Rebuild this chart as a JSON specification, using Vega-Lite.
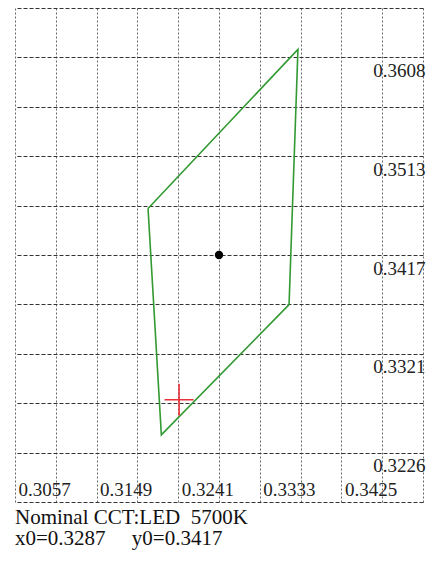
{
  "$schema": "https://vega.github.io/schema/vega-lite/v6.json",
  "width": 408,
  "height": 494,
  "autosize": {"type": "none"},
  "padding": {"left": 15, "top": 8, "right": 7, "bottom": 59},
  "background": "white",
  "config": {"view": {"stroke": null}},
  "title": {
    "text": ["Nominal CCT:LED\u00a0\u00a05700K", "x0=0.3287\u00a0\u00a0\u00a0\u00a0\u00a0y0=0.3417"],
    "orient": "bottom",
    "anchor": "start",
    "font": "Liberation Serif",
    "fontSize": 21,
    "fontWeight": "normal",
    "color": "#111111",
    "lineHeight": 21,
    "offset": -18
  },
  "datasets": {
    "quad": [
      {"i": 0, "x": 0.3207, "y": 0.3462},
      {"i": 1, "x": 0.3376, "y": 0.3616},
      {"i": 2, "x": 0.3366, "y": 0.3369},
      {"i": 3, "x": 0.3222, "y": 0.3243},
      {"i": 4, "x": 0.3207, "y": 0.3462}
    ],
    "center": [{"x": 0.3287, "y": 0.3417}],
    "measured": [{"x": 0.3242, "y": 0.3277}]
  },
  "encoding": {
    "x": {
      "field": "x",
      "type": "quantitative",
      "scale": {"domain": [0.3057, 0.3517], "nice": false, "zero": false},
      "axis": {
        "title": null,
        "orient": "bottom",
        "values": [0.3057, 0.3103, 0.3149, 0.3195, 0.3241, 0.3287, 0.3333, 0.3379, 0.3425, 0.3471, 0.3517],
        "labelExpr": "(abs(round((datum.value-0.3057)/0.0046)) % 2 == 0 && datum.value < 0.35) ? format(datum.value, '.4f') : ''",
        "domain": false,
        "ticks": false,
        "tickSize": 0,
        "grid": true,
        "gridColor": "#666666",
        "gridDash": [2, 2],
        "gridWidth": 1,
        "gridOpacity": 1,
        "labelFont": "Liberation Serif",
        "labelFontSize": 19,
        "labelColor": "#222222",
        "labelAlign": "left",
        "labelBaseline": "alphabetic",
        "labelPadding": -7,
        "labelOffset": 3,
        "labelFlush": false,
        "labelOverlap": false,
        "labelBound": false
      }
    },
    "y": {
      "field": "y",
      "type": "quantitative",
      "scale": {"domain": [0.3178, 0.3656], "nice": false, "zero": false},
      "axis": {
        "title": null,
        "orient": "right",
        "values": [0.3178, 0.32258, 0.32736, 0.33214, 0.33692, 0.3417, 0.34648, 0.35126, 0.35604, 0.36082, 0.3656],
        "labelExpr": "(abs(round((datum.value-0.3417)/0.00478)) % 2 == 0 && datum.value > 0.32 && datum.value < 0.365) ? format(datum.value, '.4f') : ''",
        "domain": false,
        "ticks": false,
        "tickSize": 0,
        "grid": true,
        "gridColor": "#333333",
        "gridDash": [4, 2],
        "gridWidth": 1,
        "gridOpacity": 1,
        "labelFont": "Liberation Serif",
        "labelFontSize": 19,
        "labelColor": "#222222",
        "labelAlign": "right",
        "labelBaseline": "alphabetic",
        "labelPadding": 2,
        "labelOffset": 19,
        "labelFlush": false,
        "labelOverlap": false,
        "labelBound": false
      }
    }
  },
  "layer": [
    {
      "data": {"name": "quad"},
      "mark": {"type": "line", "color": "#339933", "strokeWidth": 1.6},
      "encoding": {"order": {"field": "i", "type": "quantitative"}}
    },
    {
      "data": {"name": "center"},
      "mark": {"type": "point", "shape": "circle", "filled": true, "color": "black", "size": 70, "opacity": 1}
    },
    {
      "data": {"name": "measured"},
      "mark": {"type": "point", "shape": "M-1,0H1M0,-1.1V1.1", "filled": false, "color": "#e8313a", "strokeWidth": 1.6, "size": 841, "opacity": 1}
    }
  ]
}
